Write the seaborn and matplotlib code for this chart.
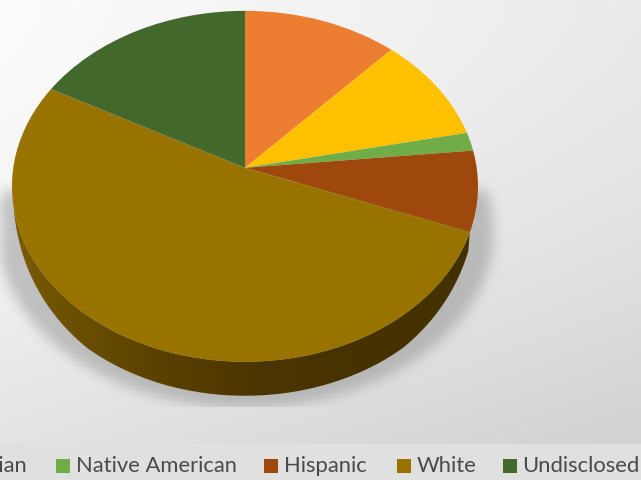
import numpy as np
import matplotlib
matplotlib.use("Agg")
import matplotlib.pyplot as plt
from matplotlib.path import Path
from matplotlib.patches import PathPatch
from matplotlib.transforms import Transform
import seaborn as sns

# Share of each group, percent
groups = ["Black", "Asian", "Native American", "Hispanic", "White", "Undisclosed"]
shares = [11.9, 9.8, 1.7, 7.4, 52.1, 17.1]
slice_colors = ["#ED7D31", "#FFC000", "#70AD47", "#9E480E", "#997300", "#43682B"]
legend_text_color = "#4A4A4A"

sns.set_theme(style="white")
plt.rcParams["font.family"] = ["Lato", "DejaVu Sans"]

W, H = 641, 481
CX, CY = 245.0, 168.8
A, B, K = 231.7, 173.5, -0.1054


class TiltedDisc(Transform):
    """Projects the unit disc of the pie onto a receding plane, in pixel units."""
    input_dims = output_dims = 2
    is_affine = False
    has_inverse = False

    def transform_non_affine(self, values):
        values = np.asarray(values, float)
        u, v = values[:, 0], -values[:, 1]
        w = 1 + K * v
        return np.column_stack([CX + A * u / w, CY + B * v / w])

    def transform_path_non_affine(self, path):
        return Path(self.transform_non_affine(path.vertices), path.codes)


def smooth(img, sigma):
    r = int(3 * sigma)
    kernel = np.exp(-0.5 * (np.arange(-r, r + 1) / sigma) ** 2)
    kernel /= kernel.sum()
    img = np.apply_along_axis(lambda c: np.convolve(c, kernel, "same"), 0, img)
    return np.apply_along_axis(lambda c: np.convolve(c, kernel, "same"), 1, img)


fig = plt.figure(figsize=(W / 100, H / 100), dpi=100)
ax = fig.add_axes([0, 0, 1, 1])
tilt = TiltedDisc()

# Slide-like backdrop: light corner fading to grey, with a flat legend band
yy, xx = np.mgrid[0:H, 0:W]
backdrop = 0.985 - 0.07 * (xx / W) - 0.11 * (yy / H) ** 1.6
backdrop[445:, :] = 0.878
ax.imshow(backdrop, cmap="gray", vmin=0, vmax=1, extent=(0, W, H, 0), zorder=0,
          interpolation="bilinear")

# Soft drop shadow beneath the disc
ey = ((yy - 232.0) / 176.0) ** 2 + ((xx - 245.0) / 248.0) ** 2
mask = (ey < 1).astype(float) * (yy > 190)
shade = smooth(mask, 6.0)
shade[408:, :] = 0
shadow_rgba = np.zeros((H, W, 4))
shadow_rgba[..., :3] = 0.5
shadow_rgba[..., 3] = 0.42 * shade
ax.imshow(shadow_rgba, extent=(0, W, H, 0), zorder=1, interpolation="bilinear")

# Pie slices, clockwise from twelve o'clock
wedges, _ = ax.pie(shares, colors=slice_colors, startangle=90, counterclock=False,
                   radius=1, wedgeprops={"linewidth": 0, "antialiased": True})

# Extruded rim under the large slice
rim_angles = np.radians(np.linspace(-21, -181, 240))
edge = tilt.transform_non_affine(np.column_stack([np.cos(rim_angles), np.sin(rim_angles)]))
depth = 34.0 * np.clip((edge[:, 1] - 205) / 110, 0, 1) ** 0.45
shrink = 1 - 0.012 * (depth / 34.0)
lower = np.column_stack([CX + (edge[:, 0] - CX) * shrink, edge[:, 1] + depth])
rim_path = Path(np.vstack([edge, lower[::-1], edge[:1]]))

stops_x = np.array([0, 60, 150, 250, 340, 480, 641])
stops_r = np.array([0.50, 0.43, 0.36, 0.30, 0.28, 0.26, 0.26])
stops_g = np.array([0.38, 0.32, 0.26, 0.21, 0.20, 0.19, 0.19])
stops_b = np.array([0.02, 0.01, 0.00, 0.00, 0.00, 0.00, 0.00])
xs = np.arange(W)
ramp = np.stack([np.interp(xs, stops_x, s) for s in (stops_r, stops_g, stops_b)], -1)[None]
rim_img = ax.imshow(ramp, extent=(0, W, H, 0), zorder=2, aspect="auto")
rim_clip = PathPatch(rim_path, transform=ax.transData, facecolor="none", edgecolor="none")
ax.add_patch(rim_clip)
rim_img.set_clip_path(rim_clip)

for wedge in wedges:
    wedge.set_transform(tilt + ax.transData)
    wedge.set_zorder(3)

# Legend row; the first entries run off the left edge of the canvas
legend_y = 467.0
handle_x = [-999, -50, 56, 264, 397, 503]
text_x = [-999, -25, 75.5, 284, 417, 522.5]
for i, name in enumerate(groups):
    if i == 0:
        continue
    ax.add_patch(plt.Rectangle((handle_x[i], legend_y - 7), 14, 14,
                               facecolor=slice_colors[i], edgecolor="none",
                               zorder=4, clip_on=True))
    ax.text(text_x[i], legend_y - 0.5, name, fontsize=15.8, color=legend_text_color,
            va="center", ha="left", zorder=4)

ax.set_aspect("auto")
ax.set_xlim(0, W)
ax.set_ylim(H, 0)
ax.axis("off")
fig.savefig("out.png", dpi=100)
